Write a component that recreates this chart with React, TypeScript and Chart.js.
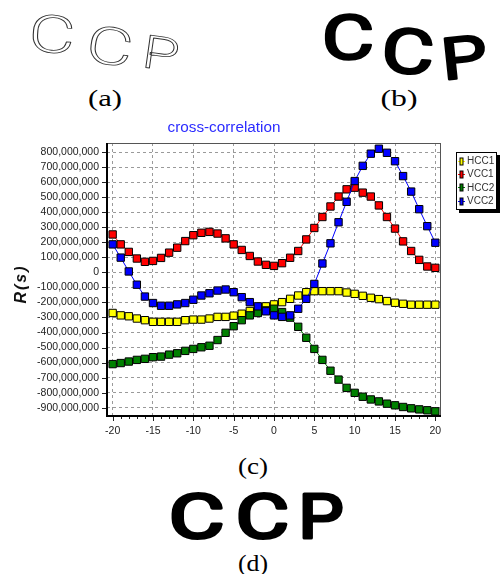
import React, { useEffect, useRef } from 'react';
import { Chart, registerables } from 'chart.js';

Chart.register(...registerables);

// ---------------- data ----------------
const lags = [-20, -19, -18, -17, -16, -15, -14, -13, -12, -11, -10, -9, -8, -7, -6, -5, -4, -3, -2, -1, 0,
  1, 2, 3, 4, 5, 6, 7, 8, 9, 10, 11, 12, 13, 14, 15, 16, 17, 18, 19, 20];

// values in millions
const hcc1 = [-270, -286, -292, -307, -318, -329, -329, -329, -329, -318, -314, -314, -307, -296, -296, -288, -275, -257, -242, -226, -213,
  -198, -176, -154, -132, -125, -125, -125, -125, -134, -143, -156, -169, -178, -191, -202, -209, -215, -215, -215, -215];
const vcc1 = [252, 186, 136, 92, 70, 76, 96, 131, 164, 208, 247, 263, 269, 258, 226, 186, 149, 109, 72, 50, 43,
  61, 97, 142, 219, 295, 368, 438, 504, 552, 563, 530, 504, 445, 368, 291, 206, 142, 83, 39, 30];
const hcc2 = [-610, -603, -593, -582, -575, -564, -560, -547, -538, -522, -509, -498, -488, -450, -402, -358, -318, -286, -270, -253, -242,
  -264, -301, -362, -435, -509, -582, -654, -713, -768, -801, -827, -845, -858, -873, -884, -895, -904, -911, -917, -924];
const vcc2 = [186, 98, 6, -82, -161, -204, -222, -222, -213, -204, -182, -154, -139, -121, -114, -132, -165, -198, -226, -259, -286,
  -296, -286, -242, -176, -77, 59, 193, 333, 469, 607, 708, 789, 822, 795, 739, 640, 537, 420, 307, 197];
const UNIT = 1e6;

const seriesNames = ['HCC1', 'VCC1', 'HCC2', 'VCC2'];
const seriesValues = [hcc1, vcc1, hcc2, vcc2];
const seriesColors = ['#ffff00', '#ff0000', '#008000', '#0000ff'];

const xTickValues = [-20, -15, -10, -5, 0, 5, 10, 15, 20];
const yTickValues = [800e6, 700e6, 600e6, 500e6, 400e6, 300e6, 200e6, 100e6, 0,
  -100e6, -200e6, -300e6, -400e6, -500e6, -600e6, -700e6, -800e6, -900e6];

const chartTitle = 'cross-correlation';
const yAxisTitle = 'R(s)';
const sketchText = ['C', 'C', 'P'];
const captions = ['(a)', '(b)', '(c)', '(d)'];

// ---------------- layout ----------------
const CANVAS_TOP = 112;
const SANS = '"Liberation Sans", Arial, sans-serif';

function fitText(ctx: CanvasRenderingContext2D, text: string, cx: number, cy: number, w: number) {
  const m = ctx.measureText(text).width;
  ctx.save();
  ctx.translate(cx, cy);
  ctx.scale(w / m, 1);
  ctx.textAlign = 'center';
  ctx.textBaseline = 'middle';
  ctx.fillText(text, 0, 0);
  ctx.restore();
}

const decorPlugin = {
  id: 'decor',
  beforeDatasetsDraw(chart: any) {
    const { ctx, chartArea: a, scales } = chart;
    ctx.save();
    ctx.strokeStyle = '#555';
    ctx.lineWidth = 1;
    ctx.beginPath();
    ctx.moveTo(a.left, a.top + 0.5);
    ctx.lineTo(a.right, a.top + 0.5);
    ctx.moveTo(a.right - 0.5, a.top);
    ctx.lineTo(a.right - 0.5, a.bottom);
    ctx.stroke();
    ctx.strokeStyle = '#000';
    ctx.lineWidth = 2;
    ctx.beginPath();
    ctx.moveTo(a.left, a.top);
    ctx.lineTo(a.left, a.bottom);
    ctx.lineTo(a.right, a.bottom);
    ctx.stroke();
    ctx.lineWidth = 1;
    ctx.strokeStyle = '#222';
    ctx.beginPath();
    lags.forEach((v) => {
      const px = Math.round(scales.x.getPixelForValue(v)) + 0.5;
      const len = v % 5 === 0 ? 4 : 2;
      ctx.moveTo(px, a.bottom + 1);
      ctx.lineTo(px, a.bottom + 1 + len);
    });
    yTickValues.forEach((v) => {
      const py = Math.round(scales.y.getPixelForValue(v)) + 0.5;
      ctx.moveTo(a.left - 5, py);
      ctx.lineTo(a.left - 1, py);
    });
    ctx.stroke();
    ctx.restore();
  },
  afterDraw(chart: any) {
    const { ctx } = chart;
    ctx.save();
    ctx.fillStyle = '#2b2bff';
    ctx.font = `14px ${SANS}`;
    fitText(ctx, chartTitle, 224, 128 - CANVAS_TOP, 113);

    ctx.save();
    ctx.translate(22, 285 - CANVAS_TOP);
    ctx.rotate(-Math.PI / 2);
    ctx.fillStyle = '#111';
    ctx.font = `italic bold 16px ${SANS}`;
    (ctx as any).letterSpacing = '2px';
    ctx.textAlign = 'center';
    ctx.textBaseline = 'middle';
    ctx.fillText(yAxisTitle, 1, 0);
    ctx.restore();

    const bx = 456, by = 152 - CANVAS_TOP, bw = 41, bh = 58;
    ctx.fillStyle = '#000';
    ctx.fillRect(bx + 3, by + 3, bw, bh);
    ctx.fillStyle = '#fff';
    ctx.fillRect(bx, by, bw, bh);
    ctx.strokeStyle = '#000';
    ctx.lineWidth = 1;
    ctx.strokeRect(bx + 0.5, by + 0.5, bw - 1, bh - 1);
    seriesNames.forEach((name, i) => {
      const cy = by + 9 + i * 13.2;
      const ix = 461.5;
      ctx.strokeStyle = seriesColors[i];
      ctx.beginPath();
      ctx.moveTo(ix - 3.5, Math.round(cy) + 0.5);
      ctx.lineTo(ix + 3.5, Math.round(cy) + 0.5);
      ctx.stroke();
      ctx.fillStyle = seriesColors[i];
      ctx.fillRect(ix - 1.5, Math.round(cy) - 3, 3, 7);
      ctx.strokeStyle = '#000';
      ctx.strokeRect(ix - 1.5, Math.round(cy) - 3, 3, 7);
      ctx.fillStyle = '#333';
      ctx.font = `10px ${SANS}`;
      ctx.textAlign = 'left';
      ctx.textBaseline = 'middle';
      ctx.fillText(name, 467, cy + 0.5);
    });
    ctx.restore();
  },
};

function ChartPanel() {
  const ref = useRef<HTMLCanvasElement | null>(null);
  useEffect(() => {
    if (!ref.current) return;
    const datasets = seriesNames.map((name, i) => ({
      label: name,
      data: lags.map((x, k) => ({ x, y: seriesValues[i][k] * UNIT })),
      borderColor: seriesColors[i],
      backgroundColor: seriesColors[i],
      borderWidth: 1,
      pointStyle: 'rect',
      pointRadius: 5.2,
      pointBackgroundColor: seriesColors[i],
      pointBorderColor: '#000',
      pointBorderWidth: 1,
      showLine: true,
      tension: 0,
      order: seriesNames.length - 1 - i,
    }));
    const chart = new Chart(ref.current, {
      type: 'line',
      data: { datasets },
      plugins: [decorPlugin],
      options: {
        animation: false,
        responsive: false,
        layout: { padding: { left: 0, right: 59, top: 31, bottom: 0 } },
        plugins: { legend: { display: false }, title: { display: false }, tooltip: { enabled: false } },
        scales: {
          x: {
            type: 'linear',
            min: -20.7,
            max: 20.7,
            afterBuildTicks: (s: any) => { s.ticks = xTickValues.map((value) => ({ value })); },
            afterFit: (s: any) => { s.height = 26; },
            grid: { color: '#9a9a9a', lineWidth: 1, drawTicks: false },
            border: { display: false, dash: [3, 3] },
            ticks: {
              autoSkip: false,
              maxRotation: 0,
              padding: 9,
              color: '#222',
              font: { family: SANS, size: 10.5 },
              callback: (v: any) => String(v),
            },
          },
          y: {
            type: 'linear',
            min: -955e6,
            max: 860e6,
            afterBuildTicks: (s: any) => { s.ticks = yTickValues.map((value) => ({ value })); },
            afterFit: (s: any) => { s.width = 107; },
            grid: { color: '#9a9a9a', lineWidth: 1, drawTicks: false },
            border: { display: false, dash: [3, 3] },
            ticks: {
              autoSkip: false,
              padding: 8,
              color: '#222',
              font: { family: SANS, size: 10.5 },
              callback: (v: any) => Number(v).toLocaleString('en-US'),
            },
          },
        },
      } as any,
    });
    return () => chart.destroy();
  }, []);
  return (
    <canvas
      ref={ref}
      width={500}
      height={330}
      style={{ position: 'absolute', left: 0, top: CANVAS_TOP, width: 500, height: 330 }}
    />
  );
}

type Glyph = { cx: number; cy: number; fs: number; rot: number; sx: number };

const sketchA: Glyph[] = [
  { cx: 52, cy: 34, fs: 52, rot: 4, sx: 1.38 },
  { cx: 110, cy: 46, fs: 52, rot: 9, sx: 1.38 },
  { cx: 161, cy: 53, fs: 46, rot: 8, sx: 1.3 },
];
const sketchB: Glyph[] = [
  { cx: 348, cy: 37, fs: 62, rot: 0, sx: 1.3 },
  { cx: 408, cy: 51, fs: 62, rot: 4, sx: 1.3 },
  { cx: 464, cy: 57, fs: 58, rot: -6, sx: 1.25 },
];
const sketchD: Glyph[] = [
  { cx: 196.5, cy: 516, fs: 62, rot: 0, sx: 1.38 },
  { cx: 262.5, cy: 516, fs: 62, rot: 0, sx: 1.32 },
  { cx: 321, cy: 516, fs: 62, rot: 0, sx: 1.15 },
];

const MARKER_FONT = 'Roboto, "Noto Sans", "DejaVu Sans", sans-serif';

function Sketch({ glyphs, mode }: { glyphs: Glyph[]; mode: 'outline' | 'bold' | 'heavy' }) {
  const outline = mode === 'outline';
  const width = outline ? 0.8 : mode === 'bold' ? 2.4 : 3.2;
  return (
    <g>
      {glyphs.map((g, i) => (
        <text
          key={i}
          x={0}
          y={0.3555 * g.fs}
          transform={`translate(${g.cx} ${g.cy}) rotate(${g.rot}) scale(${g.sx} 1)`}
          textAnchor="middle"
          fontSize={g.fs}
          fontFamily={MARKER_FONT}
          fontWeight={outline ? 300 : 400}
          fill={outline ? '#fff' : '#000'}
          stroke={outline ? '#333' : '#000'}
          strokeWidth={width}
          strokeLinejoin="round"
          strokeLinecap="round"
        >
          {sketchText[i]}
        </text>
      ))}
    </g>
  );
}

const captionPos = [
  { x: 105, y: 106, w: 34 },
  { x: 399, y: 106, w: 37 },
  { x: 253, y: 474, w: 30 },
  { x: 253, y: 571, w: 30 },
];

export default function App() {
  return (
    <div style={{ position: 'absolute', left: 0, top: 0, width: 500, height: 574, background: '#fff', overflow: 'hidden' }}>
      <svg width={500} height={574} style={{ position: 'absolute', left: 0, top: 0 }}>
        <Sketch glyphs={sketchA} mode="outline" />
        <Sketch glyphs={sketchB} mode="bold" />
        <Sketch glyphs={sketchD} mode="heavy" />
        {captions.map((c, i) => (
          <text
            key={c}
            x={captionPos[i].x}
            y={captionPos[i].y}
            textAnchor="middle"
            fontFamily='"Liberation Serif", "Times New Roman", serif'
            fontWeight={400}
            fontSize={23}
            textLength={captionPos[i].w}
            lengthAdjust="spacingAndGlyphs"
            fill="#000"
          >
            {c}
          </text>
        ))}
      </svg>
      <ChartPanel />
    </div>
  );
}
